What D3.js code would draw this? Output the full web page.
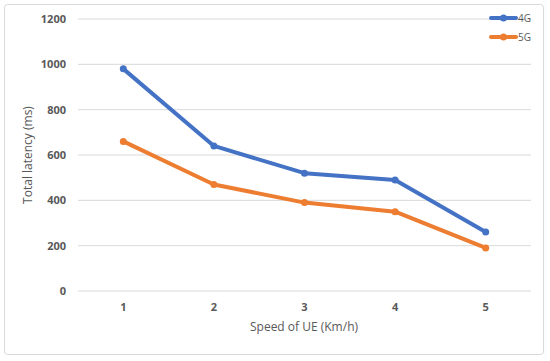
<!DOCTYPE html>
<html><head><meta charset="utf-8">
<script src="https://cdn.jsdelivr.net/npm/d3@7"></script>
<style>body{margin:0;background:#fff}svg{display:block}</style>
</head><body>
<svg id="c" width="550" height="361"></svg>
<script>
const categories = ["1","2","3","4","5"];
const series4G = [980, 640, 520, 490, 260];
const series5G = [660, 470, 390, 350, 190];
const yTicks = [0, 200, 400, 600, 800, 1000, 1200];
const seriesNames = ["4G", "5G"];
const colors = ["#4472C4", "#ED7D31"];

const svg = d3.select("#c");
const font = "'Open Sans', 'Liberation Sans', sans-serif";
svg.append("rect").attr("x",4.5).attr("y",4.5).attr("width",539).attr("height",350)
  .attr("rx",3).attr("fill","#fff").attr("stroke","#d9d9d9");

const x = d3.scaleBand().domain(categories).range([78, 531]);
const y = d3.scaleLinear().domain([0, 1200]).range([291, 19]);

const g = svg.append("g");
g.selectAll("line.grid").data(yTicks).join("line")
  .attr("x1",78).attr("x2",531).attr("y1",d=>y(d)).attr("y2",d=>y(d))
  .attr("stroke","#d9d9d9").attr("stroke-width",1);

const yAxis = svg.append("g").attr("transform","translate(78,0)")
  .call(d3.axisLeft(y).tickValues(yTicks).tickFormat(d3.format("d")).tickSize(0).tickPadding(12));
yAxis.select(".domain").remove();
yAxis.selectAll("text").attr("font-family",font).attr("font-size",11).attr("font-weight","bold").attr("fill","#595959");

const xAxis = svg.append("g").attr("transform","translate(0,291)")
  .call(d3.axisBottom(x).tickSize(0).tickPadding(12));
xAxis.select(".domain").remove();
xAxis.selectAll("text").attr("font-family",font).attr("font-size",11).attr("font-weight","bold").attr("fill","#595959");

svg.append("text").attr("x",304).attr("y",331).attr("text-anchor","middle")
  .attr("font-family",font).attr("font-size",12).attr("fill","#595959").text("Speed of UE (Km/h)");
svg.append("text").attr("transform","translate(32,155) rotate(-90)").attr("text-anchor","middle")
  .attr("font-family",font).attr("font-size",12).attr("fill","#595959").text("Total latency (ms)");

const allSeries = [series4G, series5G];
const line = d3.line().x((d,i)=>x(categories[i]) + x.bandwidth()/2).y(d=>y(d));
allSeries.forEach((s, k) => {
  svg.append("path").datum(s).attr("d", line).attr("fill","none")
    .attr("stroke", colors[k]).attr("stroke-width",4).attr("stroke-linejoin","round").attr("stroke-linecap","round");
  svg.selectAll(null).data(s).join("circle")
    .attr("cx",(d,i)=>x(categories[i]) + x.bandwidth()/2).attr("cy",d=>y(d)).attr("r",3.5)
    .attr("fill",colors[k]);
});

const leg = svg.append("g");
seriesNames.forEach((n,k)=>{
  const ly = 18 + k*19;
  leg.append("line").attr("x1",491).attr("x2",516).attr("y1",ly).attr("y2",ly)
    .attr("stroke",colors[k]).attr("stroke-width",4).attr("stroke-linecap","round");
  leg.append("circle").attr("cx",503.5).attr("cy",ly).attr("r",3.5).attr("fill",colors[k]);
  leg.append("text").attr("x",518).attr("y",ly+3.5).attr("font-family",font).attr("font-size",10)
    .attr("fill","#595959").text(n);
});
</script>
</body></html>
